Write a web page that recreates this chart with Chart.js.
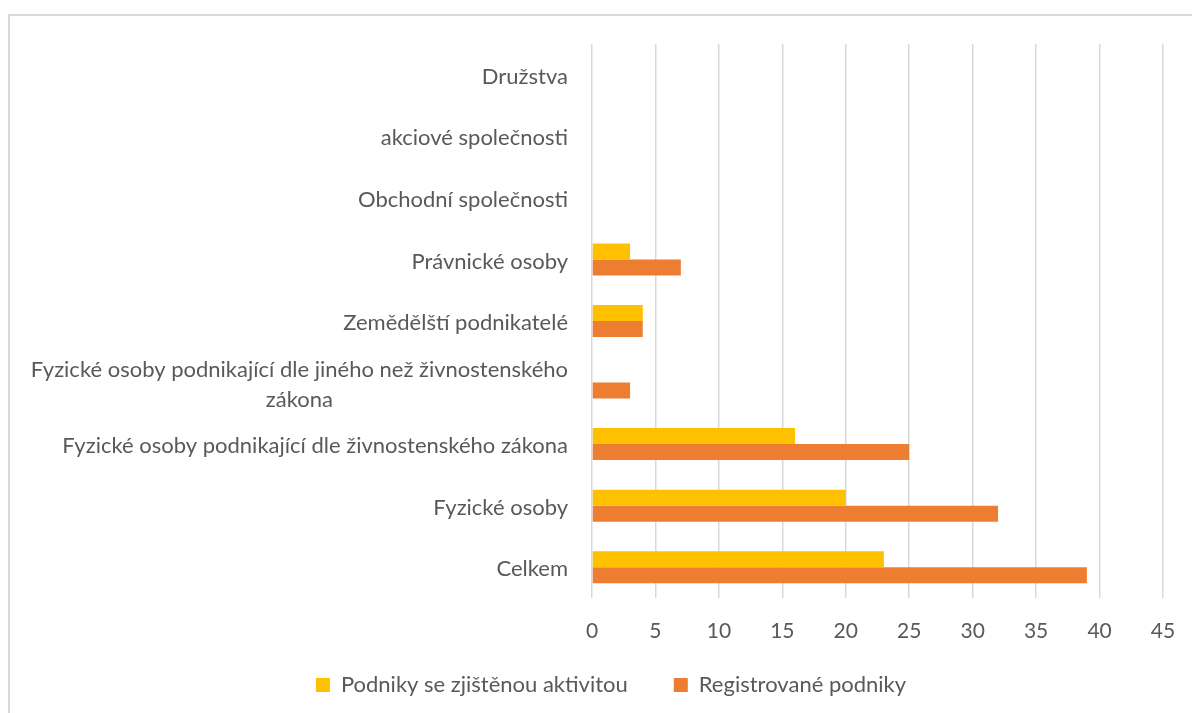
<!DOCTYPE html>
<html>
<head>
<meta charset="utf-8">
<script src="https://cdn.jsdelivr.net/npm/chart.js@4"></script>
<style>
    html, body { margin: 0; padding: 0; background: #fff; overflow: hidden; }
    #frame {
        position: absolute; left: 8px; top: 14px; width: 1300px; height: 800px;
        border: 2px solid #d9d9d9;
    }
    #wrap { position: absolute; left: 0; top: 0; width: 1192px; height: 706px; }
</style>
</head>
<body>
<div id="frame"></div>
<div id="wrap"><canvas id="barChart"></canvas></div>
<script>
const categories = [
    'Družstva',
    'akciové společnosti',
    'Obchodní společnosti',
    'Právnické osoby',
    'Zemědělští podnikatelé',
    ['Fyzické osoby podnikající dle jiného než živnostenského', 'zákona'],
    'Fyzické osoby podnikající dle živnostenského zákona',
    'Fyzické osoby',
    'Celkem'
];
const activeValues = [0, 0, 0, 3, 4, 0, 16, 20, 23];
const registeredValues = [0, 0, 0, 7, 4, 3, 25, 32, 39];
const seriesNames = ['Podniky se zjištěnou aktivitou', 'Registrované podniky'];
const xTicks = [0, 5, 10, 15, 20, 25, 30, 35, 40, 45];

const fontFamily = 'Lato, "Open Sans", sans-serif';
const textColor = '#595959';

// axis labels drawn by hand: the wrapped category is centred line by line,
// and the x labels sit between the plot and the legend without clipping
const axisLabels = {
    id: 'axisLabels',
    afterDraw(chart) {
        const ctx = chart.ctx;
        const yScale = chart.scales.y;
        const xScale = chart.scales.x;
        const area = chart.chartArea;
        const right = area.left - 24;
        ctx.save();
        ctx.fillStyle = textColor;
        ctx.textBaseline = 'middle';
        ctx.textAlign = 'center';

        ctx.font = '22px ' + fontFamily;
        categories.forEach((label, i) => {
            const lines = Array.isArray(label) ? label : [label];
            const y = yScale.getPixelForValue(i) + 2;
            const widest = Math.max(...lines.map(l => ctx.measureText(l).width));
            const cx = right - widest / 2;
            lines.forEach((line, j) => {
                ctx.fillText(line, cx, y + (j - (lines.length - 1) / 2) * 30);
            });
        });

        ctx.font = '21px ' + fontFamily;
        xTicks.forEach(v => {
            ctx.fillText(String(v), xScale.getPixelForValue(v), area.bottom + 33);
        });
        ctx.restore();
    }
};

const ctx = document.getElementById('barChart').getContext('2d');
const barChart = new Chart(ctx, {
    type: 'bar',
    data: {
        labels: categories,
        datasets: [{
            label: seriesNames[0],
            data: activeValues,
            backgroundColor: '#FFC000'
        }, {
            label: seriesNames[1],
            data: registeredValues,
            backgroundColor: '#ED7D31'
        }]
    },
    options: {
        indexAxis: 'y',
        responsive: true,
        maintainAspectRatio: false,
        animation: false,
        datasets: {
            bar: { categoryPercentage: 0.52, barPercentage: 1 }
        },
        layout: {
            padding: { left: 59, right: 29, top: 44, bottom: 0 }
        },
        scales: {
            x: {
                min: xTicks[0],
                max: xTicks[xTicks.length - 1],
                afterBuildTicks: (scale) => {
                    scale.ticks = xTicks.map(v => ({ value: v }));
                },
                afterFit: (scale) => { scale.height = 30; },
                grid: { color: '#d9d9d9', lineWidth: 1.5, drawTicks: false },
                border: { display: false },
                ticks: { display: false }
            },
            y: {
                afterFit: (scale) => { scale.width = 533; },
                grid: { display: false, drawTicks: false },
                border: { display: false },
                ticks: { display: false }
            }
        },
        plugins: {
            tooltip: { enabled: false },
            legend: {
                position: 'bottom',
                labels: {
                    boxWidth: 14,
                    boxHeight: 14,
                    padding: 46,
                    color: textColor,
                    font: { family: fontFamily, size: 22 }
                }
            }
        }
    },
    plugins: [axisLabels]
});
</script>
</body>
</html>
